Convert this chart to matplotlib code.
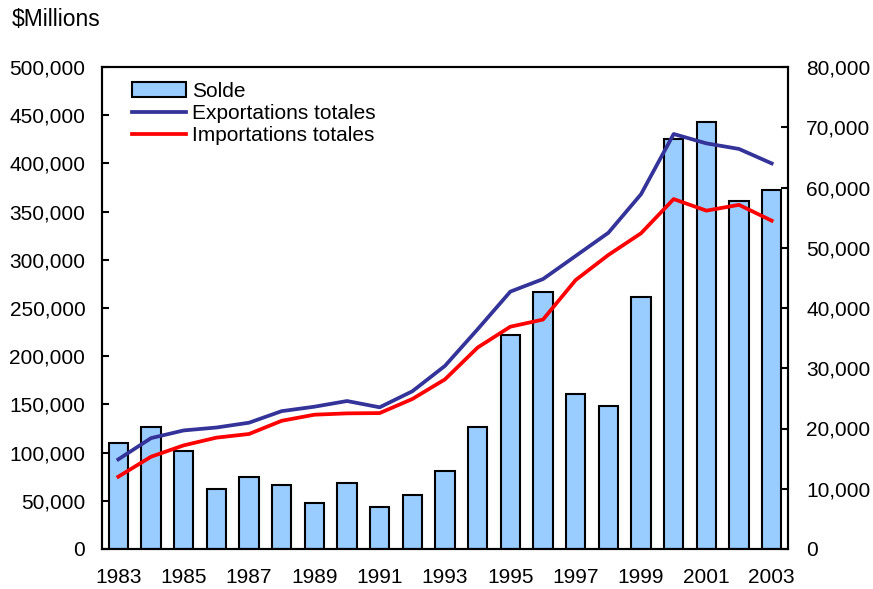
import matplotlib
matplotlib.use("Agg")
import matplotlib.pyplot as plt
from matplotlib.ticker import FuncFormatter, MultipleLocator

plt.rcParams['font.family'] = ['Liberation Sans', 'DejaVu Sans']

years = list(range(1983, 2004))
# Solde (right axis)
solde = [17600, 20300, 16200, 9900, 12000, 10700, 7700, 11000, 7000, 9000,
         13000, 20300, 35500, 42600, 25700, 23800, 41900, 68000, 70800, 57700, 59600]
# Exportations / importations totales (left axis)
exports = [93000, 115000, 123000, 126000, 131000, 143000, 147600, 153500, 147000, 163600,
           190000, 228000, 267000, 280000, 304000, 328000, 368000, 430500, 420800, 415000, 400000]
imports = [75000, 95700, 107500, 115500, 119300, 133000, 139300, 140700, 141000, 155600,
           176000, 209000, 230600, 238000, 279000, 305000, 327500, 363000, 351000, 357000, 340600]

fig = plt.figure(figsize=(8.73, 5.89), dpi=100)
ax = fig.add_axes([102/873, 1-549/589, 686/873, 482/589])
ax2 = ax.twinx()

x = list(range(len(years)))
bars = ax2.bar(x, solde, width=0.6, color='#99CCFF', edgecolor='black', linewidth=1.5, label='Solde')
l1, = ax.plot(x, exports, color='#333399', linewidth=2.7, label='Exportations totales')
l2, = ax.plot(x, imports, color='#FF0000', linewidth=2.7, label='Importations totales')

ax.set_zorder(ax2.get_zorder() + 1)
ax.patch.set_visible(False)

ax.set_xlim(-0.5, len(years) - 0.5)
ax.set_ylim(0, 500000)
ax2.set_ylim(0, 80000)
ax.yaxis.set_major_locator(MultipleLocator(50000))
ax2.yaxis.set_major_locator(MultipleLocator(10000))
fmt = FuncFormatter(lambda v, p: f"{int(v):,}")
ax.yaxis.set_major_formatter(fmt)
ax2.yaxis.set_major_formatter(fmt)

ax.set_xticks(x[::2])
ax.set_xticklabels([str(y) for y in years[::2]])
ax.tick_params(axis='x', length=0, pad=14, labelsize=15)
ax.tick_params(axis='y', direction='in', length=5, width=1.5, pad=12, labelsize=15)
ax2.tick_params(axis='y', direction='in', length=5, width=1.5, pad=13, labelsize=15)

for a in (ax, ax2):
    for s in a.spines.values():
        s.set_linewidth(1.5)

fig.text(12/873, 1-20/589, '$Millions', fontsize=16.5, va='center', ha='left')

ax.legend([bars, l1, l2], ['Solde', 'Exportations totales', 'Importations totales'],
          loc='upper left', bbox_to_anchor=(0.025, 0.995), frameon=False, fontsize=15,
          handlelength=2.6, handleheight=0.7, handletextpad=0.3, labelspacing=0.15,
          borderaxespad=0.2)

fig.savefig('out.png', dpi=100)
